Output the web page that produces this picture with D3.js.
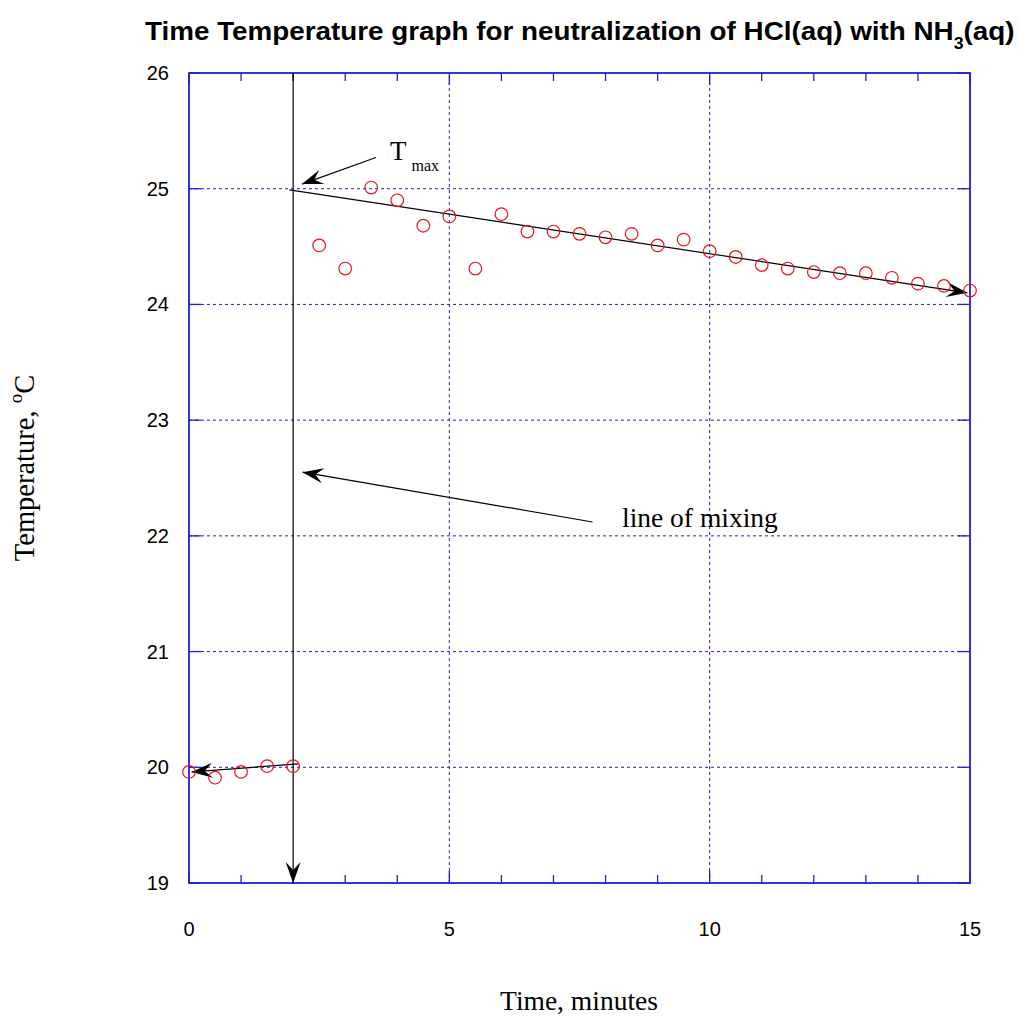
<!DOCTYPE html>
<html>
<head>
<meta charset="utf-8">
<script src="https://cdn.jsdelivr.net/npm/d3@7"></script>
<style>
  body { margin: 0; background: #fff; }
  svg { display: block; }
</style>
</head>
<body>
<div id="chart"></div>
<script>
// Measured data: time (minutes) and temperature (degC)
const times = [0, 0.5, 1, 1.5, 2, 2.5, 3, 3.5, 4, 4.5, 5, 5.5, 6, 6.5, 7, 7.5,
  8, 8.5, 9, 9.5, 10, 10.5, 11, 11.5, 12, 12.5, 13, 13.5, 14, 14.5, 15];
const temps = [19.96, 19.91, 19.96, 20.01, 20.01, 24.51, 24.31, 25.01, 24.9, 24.68,
  24.76, 24.31, 24.78, 24.63, 24.63, 24.61, 24.58, 24.61, 24.51, 24.56,
  24.46, 24.41, 24.34, 24.31, 24.28, 24.27, 24.27, 24.23, 24.18, 24.16, 24.12];

// Tick values
const xMajorTicks = [0, 5, 10, 15];
const xMinorTicks = d3.range(0, 16, 1);
const yTicks = [19, 20, 21, 22, 23, 24, 25, 26];

// Annotation arrows, in data units [x1, y1, x2, y2] (arrow head at x2, y2)
const mixingLine = [2, 26, 2, 19];
const afterTrend = [1.93, 24.99, 14.95, 24.1];
const beforeTrend = [2.1, 20.03, 0.05, 19.96];
const tmaxArrow = [3.59, 25.27, 2.17, 25.04];
const mixArrow = [7.75, 22.12, 2.18, 22.55];

const WIDTH = 1019;
const HEIGHT = 1026;
const GRID_COLOR = "#1f1fd6";

const svg = d3.select("#chart")
  .append("svg")
  .attr("width", WIDTH)
  .attr("height", HEIGHT);

const x = d3.scaleLinear().domain([0, 15]).range([189, 970]);
const y = d3.scaleLinear().domain([19, 26]).range([883, 73]);

// arrow head marker
svg.append("defs")
  .append("marker")
  .attr("id", "head")
  .attr("markerUnits", "userSpaceOnUse")
  .attr("viewBox", "-22 -9 24 18")
  .attr("refX", 0)
  .attr("refY", 0)
  .attr("markerWidth", 24)
  .attr("markerHeight", 18)
  .attr("orient", "auto")
  .append("path")
  .attr("d", "M0,0 L-21,-7.5 L-13,0 L-21,7.5 Z")
  .attr("fill", "#000");

// grid lines
const grid = svg.append("g")
  .attr("stroke", GRID_COLOR)
  .attr("stroke-width", 1)
  .attr("stroke-dasharray", "3,3");

grid.selectAll(".hgrid")
  .data(yTicks.slice(1, -1))
  .join("line")
  .attr("x1", x(0)).attr("x2", x(15))
  .attr("y1", d => y(d)).attr("y2", d => y(d));

grid.selectAll(".vgrid")
  .data(xMajorTicks.slice(1, -1))
  .join("line")
  .attr("y1", y(19)).attr("y2", y(26))
  .attr("x1", d => x(d)).attr("x2", d => x(d));

// frame
svg.append("rect")
  .attr("x", x(0))
  .attr("y", y(26))
  .attr("width", x(15) - x(0))
  .attr("height", y(19) - y(26))
  .attr("fill", "none")
  .attr("stroke", GRID_COLOR)
  .attr("stroke-width", 1.8);

// inward ticks on all four sides
const ticks = svg.append("g").attr("stroke", GRID_COLOR).attr("stroke-width", 1.3);

ticks.selectAll(".xt")
  .data(xMinorTicks)
  .join("line")
  .attr("x1", d => x(d)).attr("x2", d => x(d))
  .attr("y1", y(19)).attr("y2", d => y(19) - (xMajorTicks.includes(d) ? 12 : 8));

ticks.selectAll(".xtTop")
  .data(xMinorTicks)
  .join("line")
  .attr("x1", d => x(d)).attr("x2", d => x(d))
  .attr("y1", y(26)).attr("y2", d => y(26) + (xMajorTicks.includes(d) ? 12 : 8));

ticks.selectAll(".yt")
  .data(yTicks)
  .join("line")
  .attr("x1", x(0)).attr("x2", x(0) + 12)
  .attr("y1", d => y(d)).attr("y2", d => y(d));

ticks.selectAll(".ytRight")
  .data(yTicks)
  .join("line")
  .attr("x1", x(15)).attr("x2", x(15) - 12)
  .attr("y1", d => y(d)).attr("y2", d => y(d));

// tick labels
const labelFont = "'Liberation Sans', Arial, sans-serif";

svg.selectAll(".xlabel")
  .data(xMajorTicks)
  .join("text")
  .attr("x", d => x(d))
  .attr("y", 936)
  .attr("text-anchor", "middle")
  .attr("font-family", labelFont)
  .attr("font-size", 20)
  .text(d => d);

svg.selectAll(".ylabel")
  .data(yTicks)
  .join("text")
  .attr("x", 169)
  .attr("y", d => y(d) + 7)
  .attr("text-anchor", "end")
  .attr("font-family", labelFont)
  .attr("font-size", 20)
  .text(d => d);

// annotation lines
const arrows = svg.append("g")
  .attr("stroke", "#000")
  .attr("stroke-width", 1.2)
  .attr("fill", "none");

[mixingLine, afterTrend, beforeTrend, tmaxArrow, mixArrow].forEach(a => {
  arrows.append("line")
    .attr("x1", x(a[0])).attr("y1", y(a[1]))
    .attr("x2", x(a[2])).attr("y2", y(a[3]))
    .attr("marker-end", "url(#head)");
});

// data points
svg.append("g")
  .selectAll("circle")
  .data(times.map((t, i) => [t, temps[i]]))
  .join("circle")
  .attr("cx", d => x(d[0]))
  .attr("cy", d => y(d[1]))
  .attr("r", 6.3)
  .attr("fill", "none")
  .attr("stroke", "#e8131b")
  .attr("stroke-width", 1.2);

// annotation texts
const serif = "'Liberation Serif', 'Times New Roman', serif";

const tmax = svg.append("text")
  .attr("x", 390)
  .attr("y", 160)
  .attr("font-family", serif)
  .attr("font-size", 27);
tmax.append("tspan").text("T");
tmax.append("tspan")
  .attr("dx", 5)
  .attr("dy", 11)
  .attr("font-size", 16)
  .text("max");

svg.append("text")
  .attr("x", 622)
  .attr("y", 527)
  .attr("font-family", serif)
  .attr("font-size", 27.5)
  .text("line of mixing");

// axis titles
svg.append("text")
  .attr("x", 579)
  .attr("y", 1010)
  .attr("text-anchor", "middle")
  .attr("font-family", serif)
  .attr("font-size", 27.5)
  .text("Time, minutes");

const yTitle = svg.append("text")
  .attr("transform", "translate(34,468) rotate(-90)")
  .attr("text-anchor", "middle")
  .attr("font-family", serif)
  .attr("font-size", 28.5);
yTitle.append("tspan").text("Temperature, ");
yTitle.append("tspan").attr("dy", -12).attr("font-size", 19).text("o");
yTitle.append("tspan").attr("dy", 12).text("C");

// chart title, stretched to the width it has in the original
const title = svg.append("text")
  .attr("font-family", labelFont)
  .attr("font-weight", "bold")
  .attr("font-size", 25);
title.append("tspan").text("Time Temperature graph for neutralization of HCl(aq) with NH");
title.append("tspan").attr("dy", 9).attr("font-size", 16).text("3");
title.append("tspan").attr("dy", -9).text("(aq)");

const titleWidth = title.node().getBBox().width;
const sx = 870 / titleWidth;
title.attr("transform", `translate(145,40) scale(${sx},1)`);
</script>
</body>
</html>
